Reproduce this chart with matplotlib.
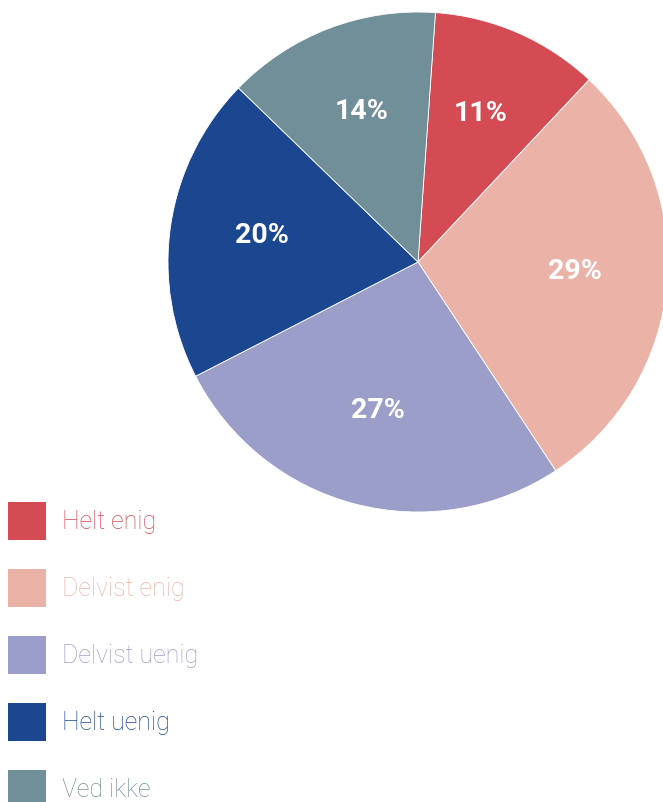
import matplotlib
matplotlib.use("Agg")
import matplotlib.pyplot as plt
from matplotlib.patches import Rectangle

categories = ["Helt enig", "Delvist enig", "Delvist uenig", "Helt uenig", "Ved ikke"]
values = [11, 29, 27, 20, 14]
colors = ["#D44B53", "#EBB3A8", "#9C9ECA", "#1B4790", "#718F98"]

W, H = 663, 802
fig = plt.figure(figsize=(W / 100, H / 100), dpi=100)

# pie axes: center (418,262) px, radius 250 px
cx, cy, r = 418, 262, 250
ax = fig.add_axes([(cx - r) / W, (H - cy - r) / H, 2 * r / W, 2 * r / H])
wedges, texts, autotexts = ax.pie(
    values, colors=colors, startangle=86, counterclock=False,
    autopct=lambda p: "", pctdistance=0.63, radius=1.0,
    wedgeprops=dict(linewidth=0.6, edgecolor="white"))
for at, v in zip(autotexts, values):
    at.set_text(f"{v}%")
    at.set_color("white")
    at.set_fontsize(20.5)
    at.set_fontweight("bold")
    at.set_family("Roboto")
    x, y = at.get_position()
    at.set_position((x, y + 0.015))
ax.set_xlim(-1, 1)
ax.set_ylim(-1, 1)
ax.set_aspect("equal")
ax.axis("off")

# legend
lax = fig.add_axes([0, 0, 1, 1])
lax.set_xlim(0, W)
lax.set_ylim(H, 0)
lax.axis("off")
y0, dy, sz = 521, 67, 38
for i, (cat, col) in enumerate(zip(categories, colors)):
    yc = y0 + i * dy
    lax.add_patch(Rectangle((8, yc - sz / 2), sz, sz, facecolor=col, edgecolor="none"))
    lax.text(62, yc + 1, cat, color=col, fontsize=18, fontfamily="Roboto",
             fontweight="light", va="center", ha="left")

fig.savefig("out.png", dpi=100)
